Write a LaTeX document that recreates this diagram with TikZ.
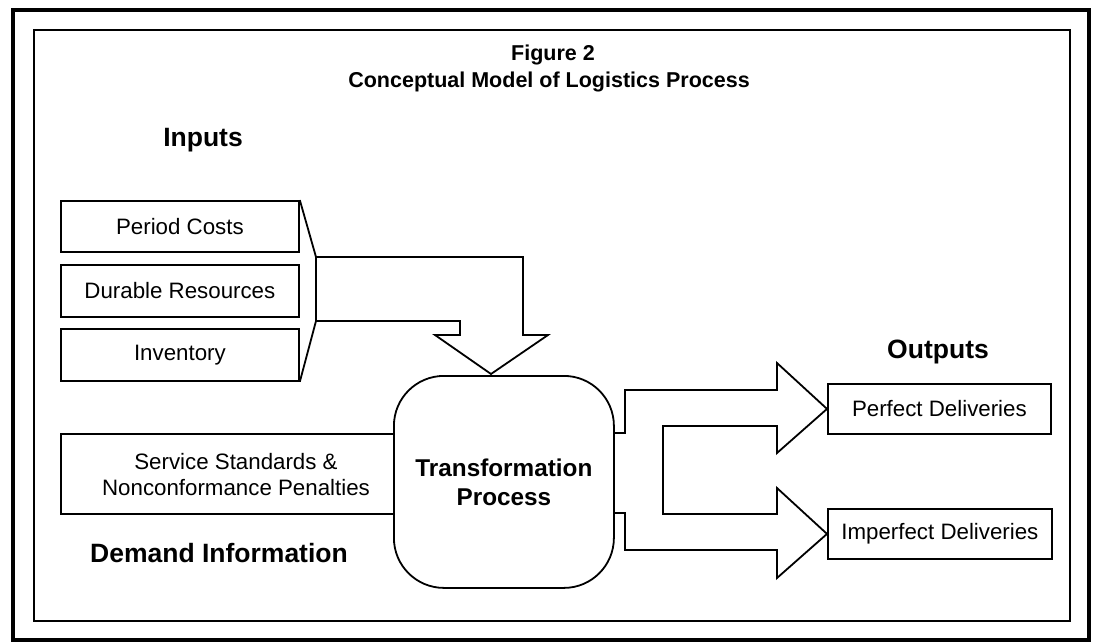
\documentclass[tikz,border=0pt]{standalone}
\usepackage{fontspec}
\setmainfont{Liberation Sans}
\begin{document}
\begin{tikzpicture}[x=1pt,y=-1pt,
  box/.style={draw, line width=1.8pt, inner sep=0pt, anchor=north west, font=\fontsize{22.3}{26}\selectfont},
  body/.style={font=\fontsize{22.3}{26}\selectfont, inner sep=0pt},
  headtext/.style={font=\bfseries\fontsize{26.5}{30}\selectfont, inner sep=0pt},
  titletext/.style={font=\bfseries\fontsize{21.5}{26}\selectfont, inner sep=0pt},
  shapeline/.style={draw, line width=1.8pt, line join=miter}]
\useasboundingbox (0,0) rectangle (1099,643);
% borders
\draw[line width=4pt] (13,10) rectangle (1089,640);
\draw[line width=1.2pt] (34,30) rectangle (1070,621);
% title
\node[titletext] (t1) at (553,55) {Figure 2};
\node[titletext] (t2) at (549,82) {Conceptual Model of Logistics Process};
% headings
\node[headtext] (inputs) at (203,140) {Inputs};
\node[headtext] (outputs) at (938,352) {Outputs};
\node[headtext] (demand) at (219,553) {Demand Information};
% input boxes
\node[box, minimum width=238pt, minimum height=51pt] (pc) at (60,200) {Period Costs};
\node[box, minimum width=238pt, minimum height=52pt] (dr) at (60,264) {Durable Resources};
\node[box, minimum width=238pt, minimum height=52pt] (inv) at (60,328) {Inventory};
% transformation process
\node[draw, line width=1.8pt, rounded corners=50pt, minimum width=220pt, minimum height=212pt,
      anchor=north west, inner sep=0pt, align=center,
      font=\bfseries\fontsize{24.3}{29}\selectfont] (tp) at (393,375) {Transformation\\Process};
% service standards box
\node[box, minimum width=333pt, minimum height=80pt] (svc) at (60,433) {};
\node[body, align=center] (svctext) at (236,475) {Service Standards \&\\Nonconformance Penalties};
% output boxes
\node[box, minimum width=223pt, minimum height=50pt] (pd) at (827,383) {Perfect Deliveries};
\node[box, minimum width=224pt, minimum height=50pt] (id) at (827,508) {Imperfect Deliveries};
% funnel and input arrow
\coordinate (fa) at (316,257);
\coordinate (fb) at (316,321);
\coordinate (tip) at (491,374);
\draw[shapeline] (pc.north east) -- (fa) -- (fb) -- (inv.south east);
\draw[shapeline] (fa) -- (523,257) -- (523,335) -- (548,335) -- (tip)
  -- (435,335) -- (460,335) -- (460,321) -- (fb);
% output fork arrow
\coordinate (pdtip) at (pd.west);
\coordinate (idtip) at (id.west);
\draw[shapeline] (613,433) -- (625,433) -- (625,390) -- (777,390) -- (777,363)
  -- (pdtip) -- (777,453) -- (777,426) -- (663,426) -- (663,514) -- (777,514)
  -- (777,488) -- (idtip) -- (777,578) -- (777,550) -- (625,550) -- (625,513) -- (613,513);
\end{tikzpicture}
\end{document}
